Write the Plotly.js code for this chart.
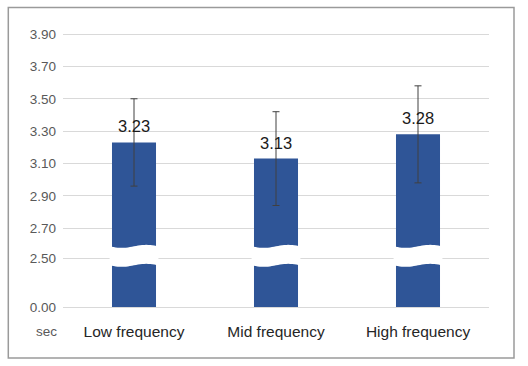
<!DOCTYPE html>
<html>
<head>
<meta charset="utf-8">
<script src="https://cdn.plot.ly/plotly-3.0.1.min.js"></script>
<style>html,body{margin:0;padding:0;background:#fff;}#chart{width:528px;height:366px;}</style>
</head>
<body>
<div id="chart"></div>
<script>
// ---- data ----
const categories = ['Low frequency', 'Mid frequency', 'High frequency'];
const meanValues = [3.23, 3.13, 3.28];
const errorValues = [0.27, 0.29, 0.30];
const yTickValues = [0, 2.5, 2.7, 2.9, 3.1, 3.3, 3.5, 3.7, 3.9];
const yTickLabels = ['0.00', '2.50', '2.70', '2.90', '3.10', '3.30', '3.50', '3.70', '3.90'];
const unitLabel = 'sec';

// ---- broken axis mapping (value -> display position) ----
const POS_250 = 2.5148;   // display position of 2.50
const POS_000 = 2.2123;   // display position of 0.00
function axisPos(v) {
  if (v >= 2.7) return v;
  if (v >= 2.5) return POS_250 + (v - 2.5) / 0.2 * (2.7 - POS_250);
  return POS_000 + v / 2.5 * (POS_250 - POS_000);
}

const W = 528, H = 366;
const M = {l: 63, r: 39, t: 26, b: 59};
const plotH = H - M.t - M.b;
const pxPerUnit = 161.7;
const yTop = POS_000 + plotH / pxPerUnit;

const font = 'Liberation Sans, Arial, sans-serif';
const barColor = '#2F5597';
const xIdx = categories.map((c, i) => i);

const bar = {
  type: 'bar',
  x: xIdx,
  y: meanValues.map(axisPos),
  width: 0.31,
  marker: {color: barColor, line: {width: 0}},
  error_y: {type: 'data', array: errorValues, visible: true, color: '#404040', thickness: 1, width: 3.5},
  hoverinfo: 'skip'
};

// break band (white wavy gap) over each bar
const bandTop = 2.5875, bandBot = 2.470, halfW = 0.172, amp = 1.5 / pxPerUnit;
const shapes = [];
xIdx.forEach(i => {
  const n = 24;
  let top = [], bot = [];
  for (let k = 0; k <= n; k++) {
    const t = k / n;
    const x = i - halfW + 2 * halfW * t;
    const off = -amp * Math.sin(2 * Math.PI * t);
    top.push([x, bandTop + off]);
    bot.push([x, bandBot + off]);
  }
  let d = 'M ' + top[0][0] + ',' + top[0][1];
  top.slice(1).forEach(p => d += ' L ' + p[0] + ',' + p[1]);
  bot.reverse().forEach(p => d += ' L ' + p[0] + ',' + p[1]);
  d += ' Z';
  shapes.push({type: 'path', xref: 'x', yref: 'y', path: d, fillcolor: '#ffffff', line: {width: 0}, layer: 'above'});
});
// outer frame
shapes.push({type: 'rect', xref: 'paper', yref: 'paper',
  x0: (8.3 - M.l) / (W - M.l - M.r), x1: (514 - M.l) / (W - M.l - M.r),
  y0: (H - M.b - 358) / plotH, y1: (H - M.b - 7.5) / plotH,
  line: {color: '#9a9a9a', width: 1.5}, fillcolor: 'rgba(0,0,0,0)'});

const annotations = meanValues.map((v, i) => ({
  x: i, y: axisPos(v), xref: 'x', yref: 'y', text: v.toFixed(2), showarrow: false,
  yanchor: 'middle', xanchor: 'center', yshift: 16,
  font: {family: font, size: 16.5, color: '#1a1a1a'}
}));
annotations.push({
  xref: 'paper', yref: 'paper', x: (46 - M.l) / (W - M.l - M.r), y: -24 / plotH,
  text: unitLabel, showarrow: false, xanchor: 'center', yanchor: 'middle',
  font: {family: font, size: 13.5, color: '#595959'}
});

const layout = {
  width: W, height: H,
  margin: M,
  paper_bgcolor: '#fff', plot_bgcolor: '#fff',
  showlegend: false,
  font: {family: font},
  xaxis: {
    type: 'linear', range: [-0.5, 2.5], tickvals: xIdx, ticktext: categories,
    showgrid: false, zeroline: false, ticks: '',
    showline: true, linecolor: '#d9d9d9', linewidth: 1,
    tickfont: {family: font, size: 15.5, color: '#262626'},
    ticklabelstandoff: 10, fixedrange: true
  },
  yaxis: {
    range: [POS_000, yTop], tickvals: yTickValues.map(axisPos), ticktext: yTickLabels,
    showgrid: true, gridcolor: '#d9d9d9', gridwidth: 1, zeroline: false, ticks: '',
    showline: false, tickfont: {family: font, size: 13.5, color: '#595959'},
    ticklabelstandoff: 6, fixedrange: true
  },
  shapes: shapes,
  annotations: annotations
};

Plotly.newPlot('chart', [bar], layout, {displayModeBar: false, staticPlot: true});
</script>
</body>
</html>
